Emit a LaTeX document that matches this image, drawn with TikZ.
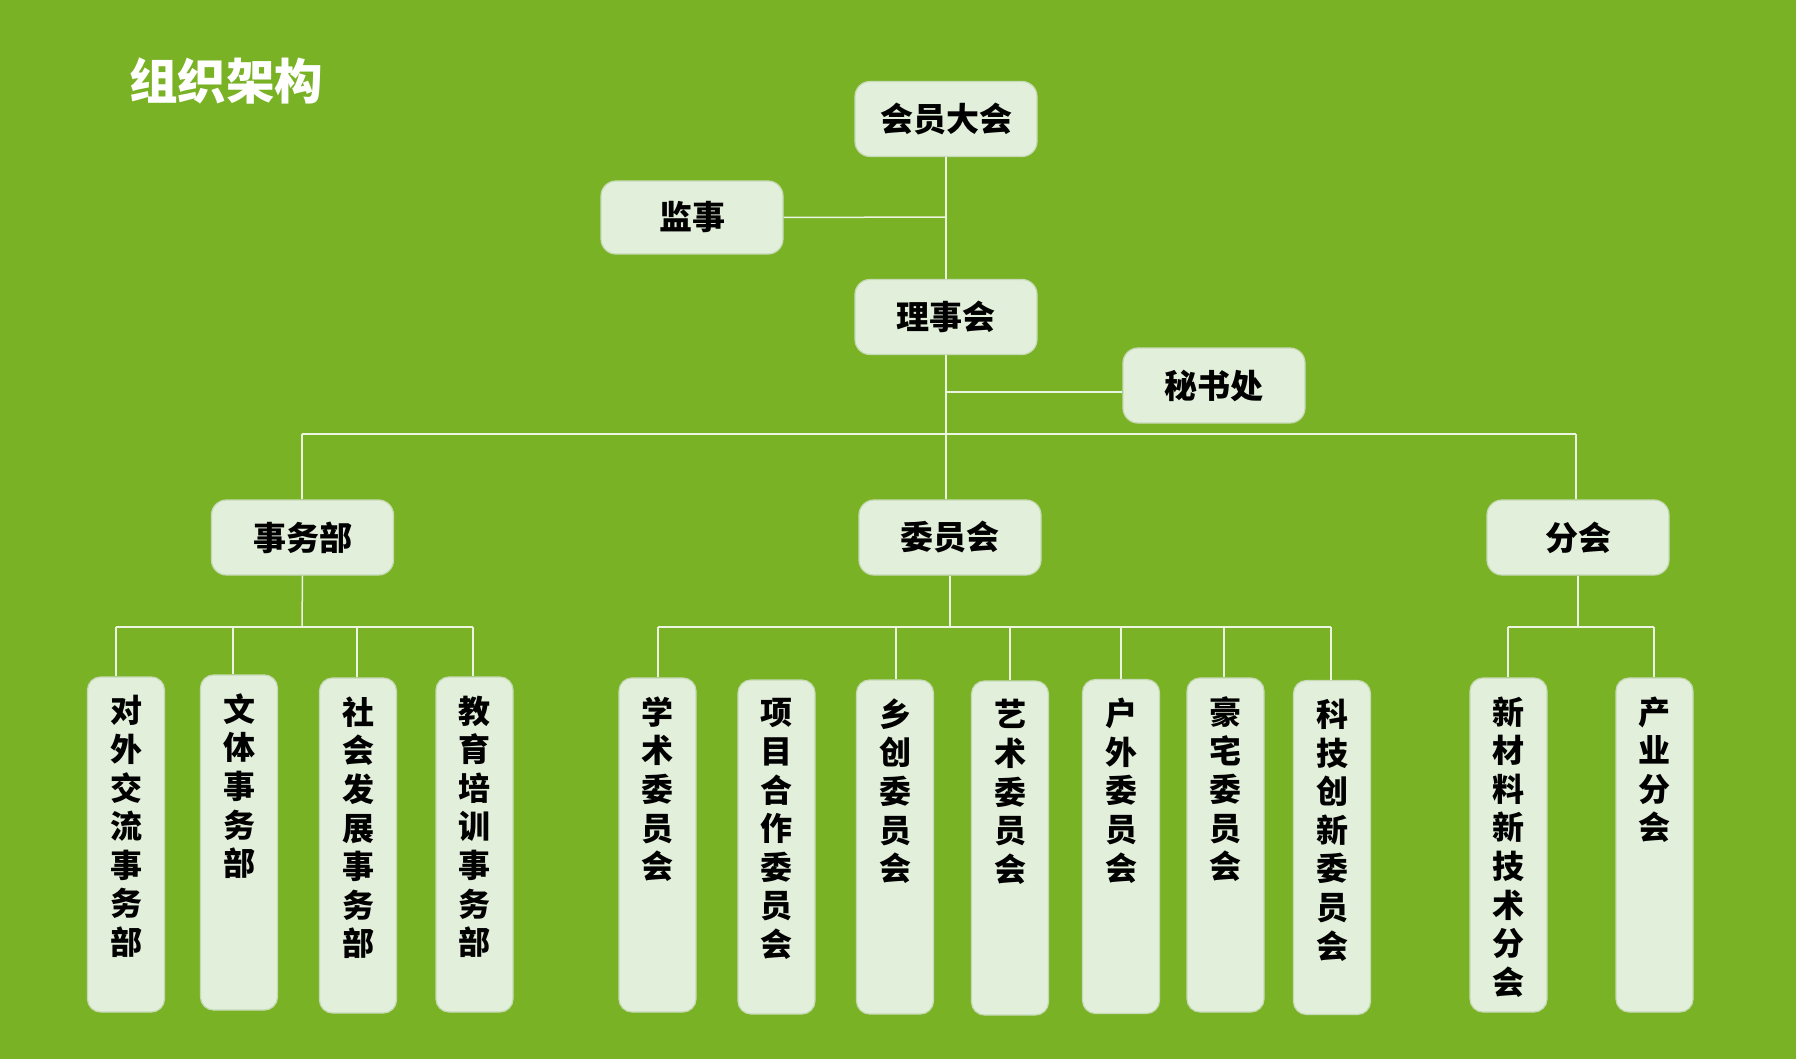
\documentclass[tikz,border=0pt]{standalone}
\usepackage{fontspec}
\setmainfont{Noto Sans CJK SC}
\usetikzlibrary{positioning}
\definecolor{bg}{RGB}{122,178,38}
\definecolor{boxfill}{RGB}{226,239,218}
\definecolor{boxline}{RGB}{198,218,182}
\definecolor{wirec}{RGB}{236,244,226}
\begin{document}
\begin{tikzpicture}[x=1pt,y=-1pt,
  topbox/.style={draw=boxline, line width=1.2pt, fill=boxfill, rounded corners=15pt,
    minimum width=182pt, minimum height=75pt, inner sep=0pt,
    font=\fontsize{33}{33}\selectfont\bfseries},
  tallbox/.style={draw=boxline, line width=1.2pt, fill=boxfill, rounded corners=13pt,
    minimum width=77pt, minimum height=334pt, inner sep=0pt},
  vtext/.style={anchor=north, inner sep=0pt, align=center,
    font=\fontsize{32}{38.6}\selectfont\bfseries},
  wire/.style={draw=wirec, line width=1.5pt}]
\fill[bg] (0,0) rectangle (1796,1059);
\useasboundingbox (0,0) rectangle (1796,1059);

% title
\node[text=white, font=\fontsize{48.5}{48.5}\selectfont\bfseries, anchor=center] (title) at (226,81) {组织架构};

% upper levels
\node[topbox] (hydh) at (946,119) {会员大会};
\node[topbox, minimum height=73pt] (js) at (692,217.5) {监事};
\node[topbox] (lsh) at (946,317) {理事会};
\node[topbox] (msc) at (1214,385.5) {秘书处};
\node[topbox] (swb) at (302.5,537.5) {事务部};
\node[topbox] (wyh) at (950,537.5) {委员会};
\node[topbox] (fh) at (1578,537.5) {分会};

% bottom boxes
\node[tallbox, minimum height=335pt] (d1) at (126,844.5) {};
\node[tallbox, minimum height=335pt] (d2) at (239,842.5) {};
\node[tallbox, minimum height=335pt] (d3) at (358,845.5) {};
\node[tallbox, minimum height=335pt] (d4) at (474.5,844.5) {};
\node[tallbox] (c1) at (657.5,845) {};
\node[tallbox] (c2) at (776.5,847) {};
\node[tallbox] (c3) at (895,847) {};
\node[tallbox] (c4) at (1010,848) {};
\node[tallbox] (c5) at (1121,846.5) {};
\node[tallbox] (c6) at (1225.5,845) {};
\node[tallbox] (c7) at (1332,847.5) {};
\node[tallbox] (b1) at (1508.5,845) {};
\node[tallbox] (b2) at (1654.5,845) {};

\node[vtext, below=19pt of d1.north] (td1) {对\\外\\交\\流\\事\\务\\部};
\node[vtext, below=19pt of d2.north] (td2) {文\\体\\事\\务\\部};
\node[vtext, below=19pt of d3.north] (td3) {社\\会\\发\\展\\事\\务\\部};
\node[vtext, below=19pt of d4.north] (td4) {教\\育\\培\\训\\事\\务\\部};
\node[vtext, below=19pt of c1.north] (tc1) {学\\术\\委\\员\\会};
\node[vtext, below=19pt of c2.north] (tc2) {项\\目\\合\\作\\委\\员\\会};
\node[vtext, below=19pt of c3.north] (tc3) {乡\\创\\委\\员\\会};
\node[vtext, below=19pt of c4.north] (tc4) {艺\\术\\委\\员\\会};
\node[vtext, below=19pt of c5.north] (tc5) {户\\外\\委\\员\\会};
\node[vtext, below=19pt of c6.north] (tc6) {豪\\宅\\委\\员\\会};
\node[vtext, below=19pt of c7.north] (tc7) {科\\技\\创\\新\\委\\员\\会};
\node[vtext, below=19pt of b1.north] (tb1) {新\\材\\料\\新\\技\\术\\分\\会};
\node[vtext, below=19pt of b2.north] (tb2) {产\\业\\分\\会};

% junction coordinates
\coordinate (jjs) at (946,217);
\coordinate (jmsc) at (946,392);
\coordinate (bl) at (302,434);
\coordinate (bm) at (946,434);
\coordinate (br) at (1576,434);
\coordinate (sw0) at (302,627);
\coordinate (swl) at (116,627);
\coordinate (swa) at (233,627);
\coordinate (swb2) at (357,627);
\coordinate (swr) at (473,627);
\coordinate (wy0) at (950,627);
\coordinate (wyl) at (658,627);
\coordinate (wy3) at (896,627);
\coordinate (wy4) at (1010,627);
\coordinate (wy5) at (1121,627);
\coordinate (wy6) at (1224,627);
\coordinate (wyr) at (1331,627);
\coordinate (fh0) at (1578,627);
\coordinate (fhl) at (1508,627);
\coordinate (fhr) at (1654,627);

% connectors
\draw[wire] (hydh.south) -- (lsh.north);
\draw[wire] (js.east) -- (jjs);
\draw[wire] (lsh.south) -- (bm) -- (bm |- wyh.north);
\draw[wire] (jmsc) -- (jmsc -| msc.west);
\draw[wire] (bl) -- (br);
\draw[wire] (bl) -- (bl |- swb.north);
\draw[wire] (br) -- (br |- fh.north);

\draw[wire] (swb.south) -- (sw0);
\draw[wire] (swl) -- (swr);
\draw[wire] (swl) -- (swl |- d1.north);
\draw[wire] (swa) -- (swa |- d2.north);
\draw[wire] (swb2) -- (swb2 |- d3.north);
\draw[wire] (swr) -- (swr |- d4.north);

\draw[wire] (wyh.south) -- (wy0);
\draw[wire] (wyl) -- (wyr);
\draw[wire] (wyl) -- (wyl |- c1.north);
\draw[wire] (wy3) -- (wy3 |- c3.north);
\draw[wire] (wy4) -- (wy4 |- c4.north);
\draw[wire] (wy5) -- (wy5 |- c5.north);
\draw[wire] (wy6) -- (wy6 |- c6.north);
\draw[wire] (wyr) -- (wyr |- c7.north);

\draw[wire] (fh.south) -- (fh0);
\draw[wire] (fhl) -- (fhr);
\draw[wire] (fhl) -- (fhl |- b1.north);
\draw[wire] (fhr) -- (fhr |- b2.north);
\end{tikzpicture}
\end{document}
